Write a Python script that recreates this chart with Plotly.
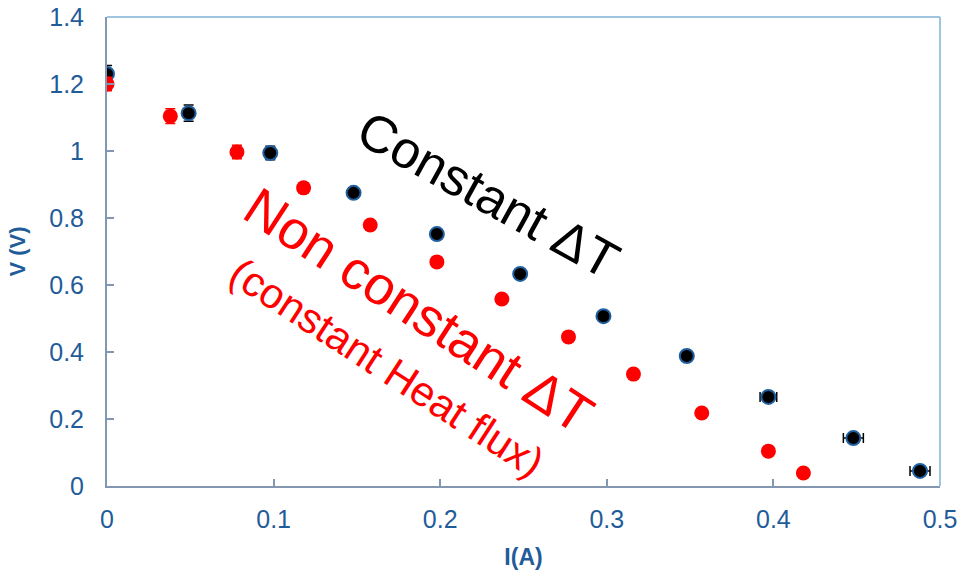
import plotly.graph_objects as go

# Constant temperature difference series
i_const = [0.0, 0.049, 0.098, 0.148, 0.198, 0.248, 0.298, 0.348, 0.397, 0.448, 0.488]
v_const = [1.23, 1.113, 0.994, 0.875, 0.752, 0.633, 0.507, 0.388, 0.266, 0.143, 0.045]
v_const_err = [0.025, 0.024, 0.02, 0, 0, 0, 0, 0, 0, 0, 0]
i_const_err = [0, 0, 0, 0, 0, 0, 0, 0, 0.005, 0.006, 0.006]

# Constant heat flux series (non constant temperature difference)
i_flux = [0.0, 0.038, 0.078, 0.118, 0.158, 0.198, 0.237, 0.277, 0.316, 0.357, 0.397, 0.418]
v_flux = [1.2, 1.104, 0.997, 0.89, 0.779, 0.669, 0.558, 0.445, 0.334, 0.218, 0.104, 0.039]
v_flux_err = [0.02, 0.022, 0.02, 0.015, 0, 0, 0, 0, 0, 0, 0, 0]

x_ticks = [0, 0.1, 0.2, 0.3, 0.4, 0.5]
x_tick_text = ["0", "0.1", "0.2", "0.3", "0.4", "0.5"]
y_ticks = [0, 0.2, 0.4, 0.6, 0.8, 1.0, 1.2, 1.4]
y_tick_text = ["0", "0.2", "0.4", "0.6", "0.8", "1", "1.2", "1.4"]

label_blue = "#1F5C99"
axis_grey = "#8497B0"
frame_blue = "#7FB2D6"

fig = go.Figure()

fig.add_trace(go.Scatter(
    x=i_const, y=v_const, mode="markers",
    marker=dict(color="black", size=14, line=dict(color="#1F5F9F", width=2)),
    error_y=dict(type="data", array=v_const_err, color="black", thickness=1.5, width=5),
    error_x=dict(type="data", array=i_const_err, color="black", thickness=1.5, width=5),
    showlegend=False,
))

fig.add_trace(go.Scatter(
    x=i_flux, y=v_flux, mode="markers",
    marker=dict(color="#FF0000", size=15, line=dict(width=0)),
    error_y=dict(type="data", array=v_flux_err, color="#FF0000", thickness=1.5, width=5),
    showlegend=False,
))

font_family = "Liberation Sans, Arial, sans-serif"

fig.add_annotation(x=0.229, y=0.87, xref="x", yref="y", text="Constant ΔT",
                   showarrow=False, textangle=29,
                   font=dict(family=font_family, size=52, color="black"))
fig.add_annotation(x=0.187, y=0.525, xref="x", yref="y", text="Non constant ΔT",
                   showarrow=False, textangle=33,
                   font=dict(family=font_family, size=54, color="#FF0000"))
fig.add_annotation(x=0.168, y=0.355, xref="x", yref="y", text="(constant Heat flux)",
                   showarrow=False, textangle=33,
                   font=dict(family=font_family, size=42, color="#FF0000"))

# Light frame on top and right of the plot area
fig.add_shape(type="line", xref="paper", yref="paper", x0=0, x1=1, y0=1, y1=1,
              line=dict(color=frame_blue, width=1.5), layer="below")
fig.add_shape(type="line", xref="paper", yref="paper", x0=1, x1=1, y0=0, y1=1,
              line=dict(color=frame_blue, width=1.5), layer="below")

fig.update_xaxes(
    range=[0, 0.5], tickvals=x_ticks, ticktext=x_tick_text, automargin=False,
    showgrid=False, zeroline=False, showline=True, linecolor=axis_grey, linewidth=2,
    ticks="inside", ticklen=7, tickwidth=1.5, tickcolor=axis_grey,
    ticklabelstandoff=10,
    tickfont=dict(family=font_family, size=25, color=label_blue),
    title=dict(text="<b>I(A)</b>", font=dict(family=font_family, size=23, color=label_blue), standoff=20),
)
fig.update_yaxes(
    range=[0, 1.4], tickvals=y_ticks, ticktext=y_tick_text, automargin=False,
    showgrid=False, zeroline=False, showline=True, linecolor=axis_grey, linewidth=2,
    ticks="inside", ticklen=7, tickwidth=1.5, tickcolor=axis_grey,
    ticklabelstandoff=16,
    tickfont=dict(family=font_family, size=25, color=label_blue),
    title=dict(text="<b>V (V)</b>", font=dict(family=font_family, size=22, color=label_blue), standoff=18),
)

fig.update_layout(
    width=961, height=570,
    margin=dict(l=107, r=21, t=17, b=84),
    paper_bgcolor="white", plot_bgcolor="white",
)

fig.write_html("out.html")
